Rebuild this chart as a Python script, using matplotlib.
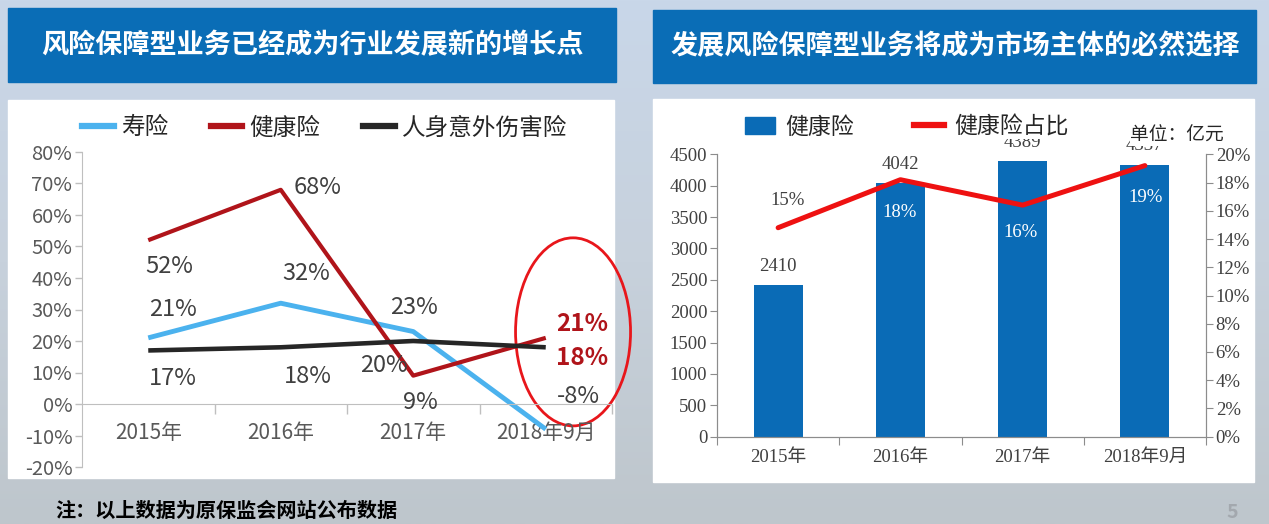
import numpy as np
import matplotlib
matplotlib.use("Agg")
import matplotlib.pyplot as plt
from matplotlib.patches import Rectangle, Ellipse
from matplotlib.lines import Line2D
from matplotlib.colors import LinearSegmentedColormap

plt.rcParams['font.family'] = ['Noto Sans CJK SC', 'DejaVu Sans']
SERIF = ['Liberation Serif', 'Noto Sans CJK SC']

# ---- data ---------------------------------------------------------------
left_title = '风险保障型业务已经成为行业发展新的增长点'
right_title = '发展风险保障型业务将成为市场主体的必然选择'
note = '注：以上数据为原保监会网站公布数据'

periods = ['2015年', '2016年', '2017年', '2018年9月']

life = [21, 32, 23, -8]          # 寿险 增速 %
health = [52, 68, 9, 21]         # 健康险 增速 %
accident = [17, 18, 20, 18]      # 人身意外伤害险 增速 %
series_names = ['寿险', '健康险', '人身意外伤害险']

health_premium = [2410, 4042, 4389, 4337]     # 健康险 保费 亿元
health_share = [14.8, 18.2, 16.4, 19.2]       # 健康险占比 %
share_labels = ['15%', '18%', '16%', '19%']

# ---- figure -------------------------------------------------------------
W, H = 1269, 524
fig = plt.figure(figsize=(W / 100, H / 100), dpi=100)


def fr(x0, y0, x1, y1):
    """pixel box (top-left origin) -> figure fraction rect"""
    return [x0 / W, 1 - y1 / H, (x1 - x0) / W, (y1 - y0) / H]


# background gradient
bg = fig.add_axes([0, 0, 1, 1], zorder=-10)
cmap = LinearSegmentedColormap.from_list('bg', ['#c9d7e9', '#c7d1dc', '#bec6cc'])
bg.imshow(np.linspace(0, 1, 256)[:, None], aspect='auto', cmap=cmap,
          extent=[0, 1, 0, 1])
bg.axis('off')

BLUE = '#0a6db6'
for (x0, y0, x1, y1) in [(8, 8, 616, 82), (653, 10, 1256, 83)]:
    fig.patches.append(Rectangle((x0 / W, 1 - y1 / H), (x1 - x0) / W, (y1 - y0) / H,
                                 transform=fig.transFigure, color=BLUE, zorder=-5))
for (x0, y0, x1, y1) in [(8, 100, 614, 478), (653, 99, 1254, 482)]:
    fig.patches.append(Rectangle((x0 / W, 1 - y1 / H), (x1 - x0) / W, (y1 - y0) / H,
                                 transform=fig.transFigure, color='white', zorder=-5))

fig.text(312 / W, 1 - 45 / H, left_title, color='white', fontsize=19.5, weight='bold',
         ha='center', va='center')
fig.text(955 / W, 1 - 46 / H, right_title, color='white', fontsize=19.5, weight='bold',
         ha='center', va='center')
fig.text(55 / W, 1 - 510 / H, note, color='black', fontsize=14.5, weight='bold',
         ha='left', va='center')
fig.text(1232 / W, 1 - 512 / H, '5', color='#a3a8ae', fontsize=14, weight='bold',
         style='italic', ha='center', va='center')

# ---- left chart: growth rates -------------------------------------------
GRAY = '#595959'
ax = fig.add_axes(fr(82, 152, 612, 467))
x = np.arange(len(periods))
c_life, c_health, c_acc = '#4bb2ee', '#b0141a', '#262626'
ax.plot(x, np.array(life) / 100, color=c_life, lw=3.5, solid_capstyle='butt')
ax.plot(x, np.array(health) / 100, color=c_health, lw=3.0, solid_capstyle='butt')
ax.plot(x, np.array(accident) / 100, color=c_acc, lw=3.3, solid_capstyle='butt')
ax.set_xlim(-0.5, 3.5)
ax.set_ylim(-0.2, 0.8)
yt = np.arange(-0.2, 0.81, 0.1)
ax.set_yticks(yt)
ax.set_yticklabels([f'{v * 100:.0f}%' for v in yt])
ax.tick_params(axis='y', colors='#bfbfbf', labelcolor=GRAY, labelsize=14.5,
               length=5, width=1, pad=2)
for s in ['top', 'right']:
    ax.spines[s].set_visible(False)
ax.spines['left'].set_color('#bfbfbf')
ax.spines['bottom'].set_position(('data', 0))
ax.spines['bottom'].set_color('#bfbfbf')
ax.set_xticks(x + 0.5)
ax.set_xticklabels([])
ax.set_xticks(x, minor=True)
ax.set_xticklabels(periods, minor=True)
ax.tick_params(axis='x', which='major', colors='#bfbfbf', length=7, width=1)
ax.tick_params(axis='x', which='minor', length=0, labelcolor=GRAY, labelsize=15, pad=13)
ax.patch.set_alpha(0)

# data labels (offsets in pixels from each point)
life_off = [(25, 28), (25, 30), (1, 24), (33, 33)]
health_off = [(21, -26), (37, 2), (7, -27), (36, 14)]
acc_off = [(25, -28), (27, -29), (-29, -25), (36, -11)]
for vals, offs, hl in [(life, life_off, None), (health, health_off, 3),
                       (accident, acc_off, 3)]:
    for i, (v, o) in enumerate(zip(vals, offs)):
        red = (i == hl)
        ax.annotate(f'{v}%', (i, v / 100), xytext=o, textcoords='offset pixels',
                    ha='center', va='center', fontsize=17 if not red else 17.5,
                    color=c_health if red else '#404040',
                    weight='bold' if red else 'normal', annotation_clip=False)

ax.add_patch(Ellipse((3.206, 0.229), 0.868, 0.597, fill=False, ec='#e8161b',
                     lw=2.0, clip_on=False))

handles = [Line2D([], [], color=c, lw=4.5) for c in (c_life, c_health, c_acc)]
ax.legend(handles, series_names, ncol=3, loc='center left',
          bbox_to_anchor=(70 / W, 1 - 128 / H), bbox_transform=fig.transFigure,
          frameon=False, fontsize=17, handlelength=1.35, handletextpad=0.3,
          columnspacing=1.8, borderpad=0, labelcolor='#262626')

# ---- right chart: health premium and share ------------------------------
axr = fig.add_axes(fr(717, 154.3, 1206, 436.7))
bars = axr.bar(x, health_premium, width=0.4, color='#0a6bb6', zorder=2)
axr.set_xlim(-0.5, 3.5)
axr.set_ylim(0, 4500)
axr.set_yticks(np.arange(0, 4501, 500))
for lab in axr.get_yticklabels():
    lab.set_family(SERIF)
axr.tick_params(axis='y', colors='#8c8c8c', labelcolor='#404040', labelsize=13.5,
                length=5, pad=2)
axr.set_xticks(np.arange(-0.5, 3.6, 1.0))
axr.set_xticklabels([])
axr.set_xticks(x, minor=True)
axr.set_xticklabels(periods, minor=True, family=SERIF)
axr.tick_params(axis='x', which='major', colors='#8c8c8c', length=6)
axr.tick_params(axis='x', which='minor', length=0, labelcolor='#404040',
                labelsize=13.5, pad=9)
for s in ['top']:
    axr.spines[s].set_visible(False)
for s in ['left', 'bottom', 'right']:
    axr.spines[s].set_color('#8c8c8c')
axr.patch.set_alpha(0)
for i, v in enumerate(health_premium):
    axr.annotate(f'{v}', (i, v), xytext=(0, 19), textcoords='offset pixels',
                 ha='center', va='center', fontsize=13.5, color='#404040',
                 family=SERIF)

ax2 = axr.twinx()
ax2.plot(x, health_share, color='#ee1111', lw=3.6, solid_capstyle='round', zorder=3)
ax2.set_ylim(0, 20)
ax2.set_yticks(np.arange(0, 21, 2))
ax2.set_yticklabels([f'{v}%' for v in range(0, 21, 2)], family=SERIF)
ax2.tick_params(axis='y', colors='#8c8c8c', labelcolor='#404040', labelsize=13.5,
                length=5, pad=2)
for s in ['top']:
    ax2.spines[s].set_visible(False)
for s in ['left', 'bottom', 'right']:
    ax2.spines[s].set_color('#8c8c8c')
share_off = [(9, 27), (-1, -33), (-2, -27), (1, -32)]
for i, (v, lab, o) in enumerate(zip(health_share, share_labels, share_off)):
    ax2.annotate(lab, (i, v), xytext=o, textcoords='offset pixels', ha='center',
                 va='center', fontsize=13.5, family=SERIF,
                 color='#404040' if i == 0 else 'white')

hr = [Rectangle((0, 0), 1, 1, color='#0a6bb6'),
      Line2D([], [], color='#ee1111', lw=4.5)]
leg = ax2.legend(hr, ['健康险', '健康险占比'], ncol=2, loc='center left',
                 bbox_to_anchor=(734 / W, 1 - 127 / H), bbox_transform=fig.transFigure,
                 frameon=True, facecolor='white', edgecolor='none', framealpha=1,
                 fancybox=False, fontsize=16.5, handlelength=1.3, handleheight=0.8,
                 handletextpad=0.45, columnspacing=2.6, borderpad=0.0,
                 labelcolor='#262626')
fig.text(1177 / W, 1 - 135 / H, '单位：亿元', fontsize=13.5, color='#262626',
         ha='center', va='center',
         bbox=dict(facecolor='white', edgecolor='none', pad=0))

fig.savefig('out.png', dpi=100)
